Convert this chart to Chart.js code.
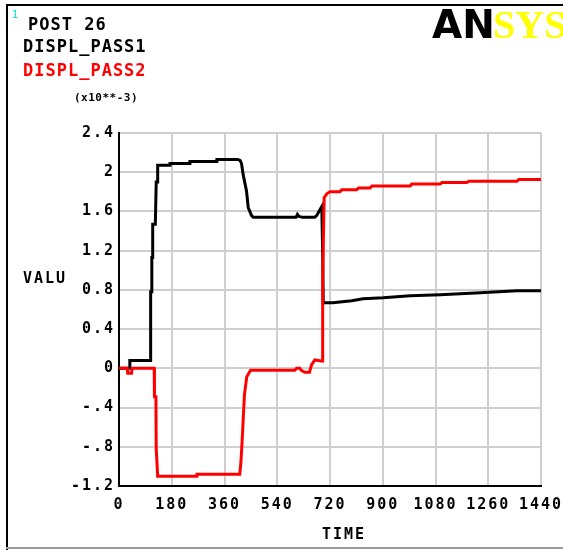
<!DOCTYPE html>
<html>
<head>
<meta charset="utf-8">
<script src="https://cdn.jsdelivr.net/npm/chart.js@4"></script>
<style>
  html, body { margin: 0; padding: 0; background: #fff; }
</style>
</head>
<body>
<canvas id="chart" width="563" height="550"></canvas>
<script>

// DISPL_PASS1 (black)
const pass1Time  = [0, 36, 37, 107, 108, 111, 112, 114, 115, 124, 127, 131, 132, 173, 174, 241, 242, 333, 334, 405,
                    413, 418, 424, 435, 441, 452, 458, 604, 609, 614, 627, 668, 675, 686, 692, 695, 697, 709, 730, 794,
                    833, 901, 994, 1096, 1233, 1358, 1440];
const pass1Value = [0, 0, 0.08, 0.08, 0.78, 0.78, 1.13, 1.13, 1.47, 1.47, 1.9, 1.9, 2.07, 2.07, 2.09, 2.09, 2.11, 2.11, 2.13, 2.13,
                    2.12, 2.09, 1.97, 1.81, 1.64, 1.56, 1.54, 1.54, 1.57, 1.55, 1.54, 1.54, 1.56, 1.62, 1.65, 1.17, 0.67, 0.67, 0.67, 0.69,
                    0.71, 0.72, 0.74, 0.75, 0.77, 0.79, 0.79];

// DISPL_PASS2 (red)
const pass2Time  = [0, 28, 30, 43, 45, 120, 121, 126, 127, 129, 132, 265, 266, 412, 416, 420, 424, 428, 436, 449,
                    600, 606, 617, 622, 634, 650, 657, 668, 690, 693, 694, 696, 700, 709, 720, 754, 760, 811, 817, 857,
                    863, 994, 999, 1096, 1102, 1187, 1193, 1358, 1364, 1440];
const pass2Value = [0, 0, -0.05, -0.05, 0, 0, -0.29, -0.29, -0.82, -0.82, -1.1, -1.1, -1.08, -1.08, -0.96, -0.75, -0.51, -0.27, -0.085, -0.02,
                    -0.02, 0, 0, -0.02, -0.04, -0.04, 0.035, 0.085, 0.075, 0.075, 0.5, 0.9, 1.74, 1.78, 1.8, 1.8, 1.82, 1.82, 1.84, 1.84,
                    1.86, 1.86, 1.88, 1.88, 1.894, 1.894, 1.908, 1.908, 1.925, 1.925];

const xTickLabels = ['0', '180', '360', '540', '720', '900', '1080', '1260', '1440'];
const yTickLabels = ['-1.2', '-.8', '-.4', '0', '0.4', '0.8', '1.2', '1.6', '2', '2.4'];

chartInit();

function chartInit(){
    const ctx = document.getElementById('chart').getContext('2d');
    const tickFont = { family: 'DejaVu Sans Mono', size: 15, weight: 'bold' };

    // texts, logo and frame drawn around the plot
    const ansysText = {
        id: 'ansysText',
        beforeDraw(chart){
            chart.ctx.letterSpacing = '2px';
        },
        afterDraw(chart){
            const c = chart.ctx;
            c.save();
            c.fillStyle = '#000';
            c.fillRect(6, 4, 2, 546);
            c.fillRect(6, 4, 557, 2);
            c.fillStyle = '#9a9a9a';
            c.fillRect(6, 547, 557, 2);

            c.textAlign = 'left';
            c.textBaseline = 'alphabetic';

            c.letterSpacing = '0px';
            c.fillStyle = '#00d8e8';
            c.font = '10px "DejaVu Sans Mono"';
            c.fillText('1', 12, 18);

            c.letterSpacing = '1px';
            c.font = 'bold 17px "DejaVu Sans Mono"';
            c.fillStyle = '#000';
            c.fillText('POST 26', 28, 30);
            c.fillText('DISPL_PASS1', 23, 52);
            c.fillStyle = '#ff0000';
            c.fillText('DISPL_PASS2', 23, 76);

            c.letterSpacing = '0.5px';
            c.fillStyle = '#000';
            c.font = 'bold 11px "DejaVu Sans Mono"';
            c.fillText('(x10**-3)', 74, 101);

            c.letterSpacing = '2px';
            c.font = 'bold 15px "DejaVu Sans Mono"';
            c.fillText('VALU', 23, 283);
            c.fillText('TIME', 322, 539);

            c.letterSpacing = '0px';
            c.font = 'bold 39px "DejaVu Sans"';
            c.fillStyle = '#000';
            c.fillText('AN', 432, 38);
            c.font = 'bold 40px "Liberation Serif"';
            c.fillStyle = '#ffff00';
            c.fillText('SYS', 493, 38);
            c.restore();
        }
    };

    const myChart = new Chart(ctx, {
        type: 'scatter',
        data: {
            datasets: [{
                label: 'DISPL_PASS2',
                data: pass2Time.map((t, i) => ({ x: t, y: pass2Value[i] })),
                borderColor: '#ff0000',
                borderWidth: 3,
                showLine: true,
                pointRadius: 0,
                order: 0
            }, {
                label: 'DISPL_PASS1',
                data: pass1Time.map((t, i) => ({ x: t, y: pass1Value[i] })),
                borderColor: '#000000',
                borderWidth: 3,
                showLine: true,
                pointRadius: 0,
                order: 1
            }]
        },
        options: {
            responsive: false,
            animation: false,
            devicePixelRatio: 1,
            layout: { padding: { left: 0, top: 133, right: 22, bottom: 0 } },
            plugins: {
                legend: { display: false },
                tooltip: { enabled: false }
            },
            scales: {
                x: {
                    type: 'linear',
                    min: 0,
                    max: 1440,
                    ticks: {
                        stepSize: 180,
                        autoSkip: false,
                        maxRotation: 0,
                        color: '#000',
                        font: tickFont,
                        padding: 10,
                        callback: (value, index) => xTickLabels[index]
                    },
                    grid: { color: '#cfcfcf', lineWidth: 2, drawTicks: false },
                    border: { color: '#000', width: 2 },
                    afterFit(scale){
                        scale.height = 64;
                        scale.paddingLeft = 0;
                        scale.paddingRight = 0;
                    }
                },
                y: {
                    min: -1.2,
                    max: 2.4,
                    ticks: {
                        stepSize: 0.4,
                        color: '#000',
                        font: tickFont,
                        padding: 4,
                        callback: (value, index) => yTickLabels[index]
                    },
                    grid: { color: '#cfcfcf', lineWidth: 2, drawTicks: false },
                    border: { color: '#000', width: 2 },
                    afterFit(scale){
                        scale.width = 119;
                        scale.paddingTop = 0;
                        scale.paddingBottom = 0;
                    }
                }
            }
        },
        plugins: [ansysText]
    });
}
</script>
</body>
</html>
